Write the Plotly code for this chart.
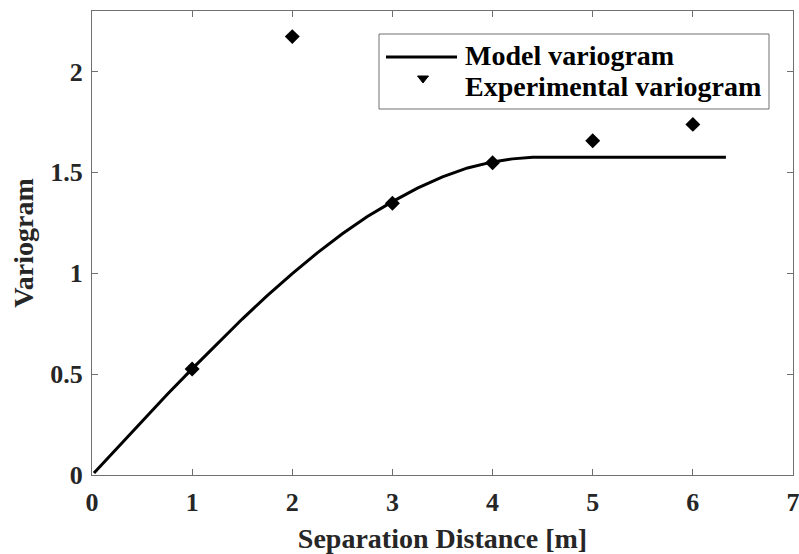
import plotly.graph_objects as go

# Experimental variogram
exp_x = [1, 2, 3, 4, 5, 6]
exp_y = [0.525, 2.173, 1.347, 1.548, 1.657, 1.738]

# Model variogram curve
model_x = [0.02, 0.25, 0.5, 0.75, 1.0, 1.25, 1.5, 1.75, 2.0, 2.25, 2.5, 2.75,
           3.0, 3.25, 3.5, 3.75, 4.0, 4.2, 4.4, 5.0, 5.5, 6.0, 6.33]
model_y = [0.01, 0.134, 0.267, 0.399, 0.526, 0.652, 0.773, 0.889, 0.998, 1.101,
           1.196, 1.281, 1.355, 1.422, 1.478, 1.522, 1.552, 1.567, 1.575, 1.575,
           1.575, 1.575, 1.575]

x_ticks = [0, 1, 2, 3, 4, 5, 6, 7]
y_ticks = [0, 0.5, 1, 1.5, 2]
legend_names = ["Model variogram", "Experimental variogram"]

FONT = "Liberation Serif"
TXT = "#262626"
AX = "#707070"

W, H = 799, 554
ML, MR, MT, MB = 92, 6, 11, 79
PW, PH = W - ML - MR, H - MT - MB


def px(xp):
    return (xp - ML) / PW


def py(yp):
    return (H - MB - yp) / PH


fig = go.Figure()
fig.add_trace(go.Scatter(x=model_x, y=model_y, mode="lines", name=legend_names[0],
                         showlegend=False, line=dict(color="black", width=3)))
fig.add_trace(go.Scatter(x=exp_x, y=exp_y, mode="markers", name=legend_names[1],
                         showlegend=False,
                         marker=dict(symbol="diamond", size=11.5, color="black")))

axis_common = dict(showline=True, linecolor=AX, linewidth=1, mirror="ticks",
                   ticks="inside", ticklen=6, tickcolor=AX, showgrid=False,
                   zeroline=False, ticklabeloverflow="allow", automargin=False,
                   tickfont=dict(family=FONT, size=26, color=TXT, weight="bold"))

fig.update_xaxes(range=[0, 7], tickvals=x_ticks, ticklabelstandoff=4,
                 title=dict(text="Separation Distance [m]", standoff=12,
                            font=dict(family=FONT, size=28, color=TXT, weight="bold")),
                 **axis_common)
fig.update_yaxes(range=[0, 2.3], tickvals=y_ticks, ticklabelstandoff=3,
                 title=dict(text="Variogram", standoff=8,
                            font=dict(family=FONT, size=28, color=TXT, weight="bold")),
                 **axis_common)

# Legend drawn as a box (MATLAB-style)
shapes = [
    dict(type="rect", xref="paper", yref="paper", x0=px(379), x1=px(769),
         y0=py(109), y1=py(34), line=dict(color=AX, width=1), fillcolor="white",
         layer="above"),
    dict(type="line", xref="paper", yref="paper", x0=px(386), x1=px(457),
         y0=py(57), y1=py(57), line=dict(color="black", width=3), layer="above"),
    dict(type="path", xref="paper", yref="paper", layer="above",
         path=f"M {px(417.5)},{py(76)} L {px(428.5)},{py(76)} L {px(423)},{py(83)} Z",
         fillcolor="black", line=dict(color="black", width=1)),
]
annotations = [
    dict(xref="paper", yref="paper", x=px(463), y=py(55), xanchor="left",
         yanchor="middle", showarrow=False, text=legend_names[0],
         font=dict(family=FONT, size=28, color="black", weight="bold")),
    dict(xref="paper", yref="paper", x=px(463), y=py(86), xanchor="left",
         yanchor="middle", showarrow=False, text=legend_names[1],
         font=dict(family=FONT, size=28, color="black", weight="bold")),
]

fig.update_layout(
    width=W, height=H,
    margin=dict(l=ML, r=MR, t=MT, b=MB),
    plot_bgcolor="white", paper_bgcolor="white",
    showlegend=False, shapes=shapes, annotations=annotations,
)

fig.write_html("out.html")
